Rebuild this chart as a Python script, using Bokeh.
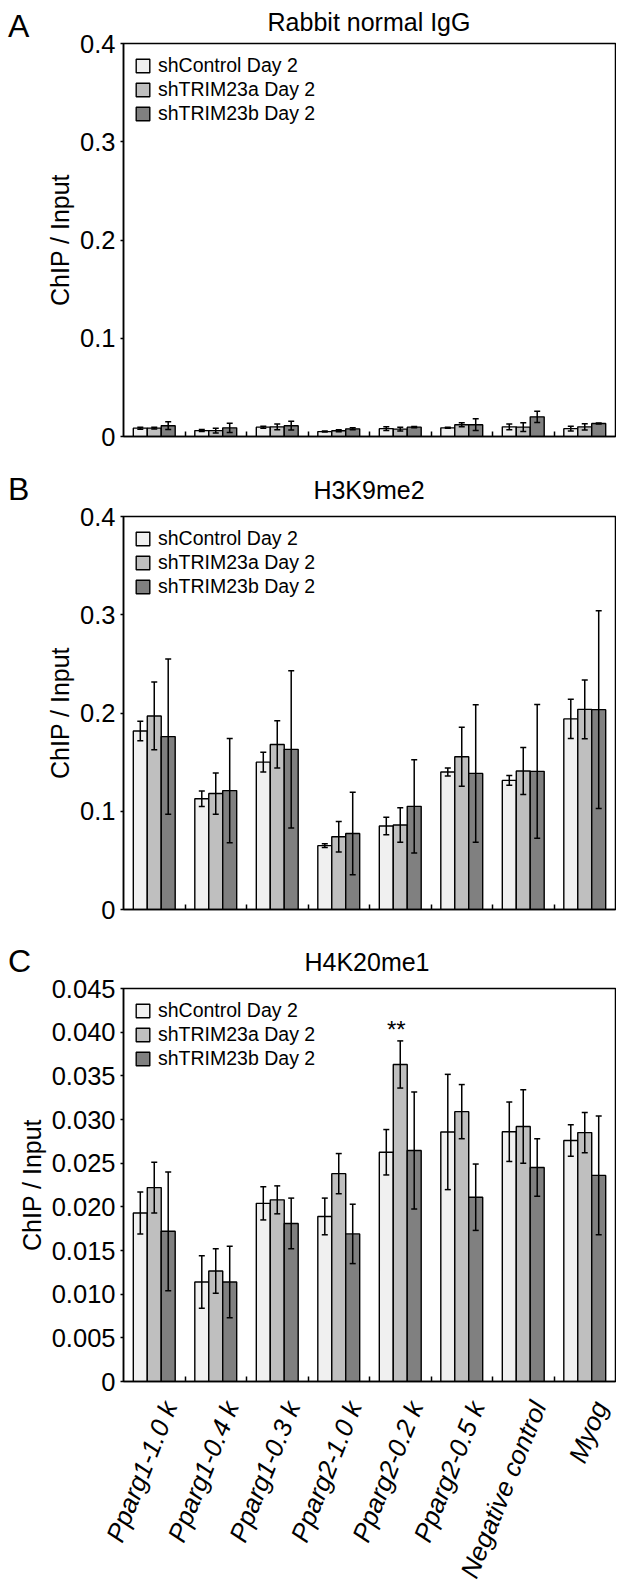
import numpy as np
from bokeh.plotting import figure
from bokeh.models import (ColumnDataSource, Whisker, Range1d, FixedTicker, CustomJSTickFormatter,
                          Legend, LegendItem, LabelSet, TeeHead, Div, LinearAxis)
from bokeh.layouts import column
from bokeh.embed import file_html
from bokeh.resources import INLINE
from bokeh.core.properties import value

# ---------------- data ----------------
categories = ["Pparg1-1.0 k", "Pparg1-0.4 k", "Pparg1-0.3 k", "Pparg2-1.0 k",
              "Pparg2-0.2 k", "Pparg2-0.5 k", "Negative control", "Myog"]
series_names = ["shControl Day 2", "shTRIM23a Day 2", "shTRIM23b Day 2"]

# Panel A: Rabbit normal IgG
igg_shcontrol = [0.0085, 0.0060, 0.0095, 0.0050, 0.0080, 0.0088, 0.0098, 0.0080]
igg_shcontrol_err = [0.0010, 0.0010, 0.0010, 0.0005, 0.0020, 0.0005, 0.0030, 0.0025]
igg_shtrim23a = [0.0085, 0.0060, 0.0098, 0.0058, 0.0075, 0.0120, 0.0095, 0.0098]
igg_shtrim23a_err = [0.0008, 0.0025, 0.0030, 0.0010, 0.0020, 0.0020, 0.0045, 0.0032]
igg_shtrim23b = [0.0110, 0.0088, 0.0110, 0.0078, 0.0095, 0.0120, 0.0200, 0.0132]
igg_shtrim23b_err = [0.0040, 0.0047, 0.0045, 0.0010, 0.0007, 0.0060, 0.0058, 0.0005]

# Panel B: H3K9me2
k9_shcontrol = [0.1817, 0.1127, 0.1500, 0.0650, 0.0850, 0.1400, 0.1314, 0.1940]
k9_shcontrol_err = [0.0100, 0.0078, 0.0100, 0.0020, 0.0090, 0.0040, 0.0050, 0.0200]
k9_shtrim23a = [0.1970, 0.1180, 0.1680, 0.0740, 0.0860, 0.1555, 0.1410, 0.2037]
k9_shtrim23a_err = [0.0345, 0.0210, 0.0240, 0.0155, 0.0175, 0.0300, 0.0240, 0.0300]
k9_shtrim23b = [0.1760, 0.1210, 0.1630, 0.0774, 0.1050, 0.1385, 0.1406, 0.2034]
k9_shtrim23b_err = [0.0790, 0.0530, 0.0800, 0.0420, 0.0475, 0.0700, 0.0680, 0.1006]

# Panel C: H4K20me1
k20_shcontrol = [0.0193, 0.0114, 0.0204, 0.0189, 0.02625, 0.02857, 0.0286, 0.0276]
k20_shcontrol_err = [0.0024, 0.0030, 0.0019, 0.0021, 0.0026, 0.0066, 0.0034, 0.0018]
k20_shtrim23a = [0.0222, 0.01265, 0.0208, 0.0238, 0.0363, 0.0309, 0.0292, 0.0285]
k20_shtrim23a_err = [0.0029, 0.00255, 0.0016, 0.0023, 0.0027, 0.0031, 0.0042, 0.0023]
k20_shtrim23b = [0.0172, 0.0114, 0.0181, 0.0169, 0.02645, 0.0211, 0.0245, 0.0236]
k20_shtrim23b_err = [0.0068, 0.0041, 0.0029, 0.0034, 0.0067, 0.0038, 0.0033, 0.0068]
k20_shtrim23a_sig = ["", "", "", "", "**", "", "", ""]

ticks_ab = [0, 0.1, 0.2, 0.3, 0.4]
ticks_c = [0, 0.005, 0.010, 0.015, 0.020, 0.025, 0.030, 0.035, 0.040, 0.045]

# ---------------- style ----------------
FONT = "Liberation Sans"
bar_fills = ["#f0f0f0", "#bfbfbf", "#808080"]
bar_w = 0.227
offsets = [-bar_w, 0.0, bar_w]
FRAME_W, FRAME_H = 492, 393
FIG_W = 608
TOP_BORDER = 15
LABEL_SHIFT = 0.25      # horizontal nudge of rotated category labels (in group units)


def header(letter, title, height, left, overlap, title_bottom, letter_bottom):
    html = (
        f'<div style="position:relative;width:{FIG_W}px;height:{height}px;'
        f'font-family:\'{FONT}\',Arial,sans-serif;color:#000;">'
        f'<span style="position:absolute;left:0px;bottom:{letter_bottom}px;'
        f'font-size:32px;line-height:1.15;">{letter}</span>'
        f'<span style="position:absolute;left:{left}px;width:{FRAME_W}px;text-align:center;'
        f'bottom:{title_bottom}px;font-size:25px;line-height:1.15;white-space:nowrap;">{title}</span>'
        f'</div>')
    return Div(text=html, width=FIG_W, height=height, margin=(0, 0, -overlap, 0),
               styles={"overflow": "visible"})


def make_panel(vals, errs, yticks, digits, left, bottom, show_xlabels=False, sig=None):
    ymax = yticks[-1]
    n = len(categories)
    p = figure(frame_width=FRAME_W, frame_height=FRAME_H,
               min_border_left=left, min_border_right=FIG_W - left - FRAME_W,
               min_border_top=TOP_BORDER, min_border_bottom=bottom,
               x_range=Range1d(0, n), y_range=Range1d(0, ymax),
               x_axis_type=None,
               output_backend="svg", toolbar_location=None, title=None)
    p.xgrid.visible = False
    p.ygrid.visible = False
    p.outline_line_color = "black"
    p.outline_line_width = 1.5
    p.background_fill_color = "white"
    p.border_fill_alpha = 0

    idx = np.arange(n)
    renderers = []
    for j in range(3):
        x = idx + 0.5 + offsets[j]
        v = np.array(vals[j])
        e = np.array(errs[j])
        src = ColumnDataSource(dict(x=x, top=v, upper=v + e, lower=v - e))
        r = p.vbar(x="x", top="top", width=bar_w, bottom=0, source=src,
                   fill_color=bar_fills[j], line_color="black", line_width=1.4)
        renderers.append(r)
        w = Whisker(source=src, base="x", upper="upper", lower="lower",
                    line_color="black", line_width=1.5, level="overlay",
                    upper_head=TeeHead(size=6, line_color="black", line_width=1.5),
                    lower_head=TeeHead(size=6, line_color="black", line_width=1.5))
        p.add_layout(w)
        if sig is not None and j == 1:
            ssrc = ColumnDataSource(dict(x=x, y=v + e, text=sig))
            p.add_layout(LabelSet(x="x", y="y", text="text", source=ssrc,
                                  text_align="center", text_baseline="alphabetic",
                                  y_offset=3, x_offset=-4,
                                  text_font=value(FONT), text_font_size=value("24px"),
                                  text_color="black"))

    # bottom axis: group boundary ticks pointing inward
    xa = LinearAxis(ticker=FixedTicker(ticks=[], minor_ticks=list(range(1, n))))
    xa.major_tick_in = 0
    xa.major_tick_out = 0
    xa.minor_tick_in = 5
    xa.minor_tick_out = 0
    xa.minor_tick_line_color = "black"
    xa.minor_tick_line_width = 1.5
    xa.axis_line_color = "black"
    xa.axis_line_width = 1.5
    xa.major_label_standoff = 0
    p.add_layout(xa, "below")

    if show_xlabels:
        p.extra_x_ranges = {"labels": Range1d(-LABEL_SHIFT, n - LABEL_SHIFT)}
        la = LinearAxis(x_range_name="labels",
                        ticker=FixedTicker(ticks=list(idx + 0.5), minor_ticks=[]))
        la.major_label_overrides = {float(i) + 0.5: c for i, c in enumerate(categories)}
        la.major_label_orientation = float(np.deg2rad(68))
        la.major_label_text_font = FONT
        la.major_label_text_font_size = "26px"
        la.major_label_text_font_style = "italic"
        la.major_label_text_color = "black"
        la.major_label_standoff = 21
        la.major_tick_in = 0
        la.major_tick_out = 0
        la.major_tick_line_color = None
        la.minor_tick_line_color = None
        la.axis_line_color = None
        p.add_layout(la, "below")

    ya = p.yaxis[0]
    ya.ticker = FixedTicker(ticks=yticks)
    ya.formatter = CustomJSTickFormatter(
        code="return tick == 0 ? '0' : tick.toFixed(%d);" % digits)
    ya.major_tick_in = 0
    ya.major_tick_out = 3
    ya.minor_tick_line_color = None
    ya.major_label_standoff = 5
    ya.major_label_text_font = FONT
    ya.major_label_text_font_size = "25.5px"
    ya.major_label_text_color = "black"
    ya.axis_line_color = "black"
    ya.axis_line_width = 1.5
    ya.major_tick_line_width = 1.5
    ya.axis_label = "ChIP / Input"
    ya.axis_label_text_font = FONT
    ya.axis_label_text_font_size = "25px"
    ya.axis_label_text_font_style = "normal"
    ya.axis_label_text_color = "black"
    ya.axis_label_standoff = 3

    legend = Legend(items=[LegendItem(label=series_names[j], renderers=[renderers[j]])
                           for j in range(3)],
                    location="top_left", glyph_width=17, glyph_height=17,
                    label_standoff=7, spacing=1, padding=11, margin=0,
                    border_line_alpha=0, background_fill_alpha=0,
                    label_text_font=FONT, label_text_font_size="19.5px",
                    label_text_color="black")
    p.add_layout(legend)
    return p


# frame tops (page px): A 43, B 516, C 988 ; figure tops = frame top - TOP_BORDER
hA = header("A", "Rabbit normal IgG", 37, 115, 17, 8.3, 0.2)
pA = make_panel([igg_shcontrol, igg_shtrim23a, igg_shtrim23b],
                [igg_shcontrol_err, igg_shtrim23a_err, igg_shtrim23b_err],
                ticks_ab, 1, left=115, bottom=20)
hB = header("B", "H3K9me2", 60, 115, 15, 10.9, 8.2)
pB = make_panel([k9_shcontrol, k9_shtrim23a, k9_shtrim23b],
                [k9_shcontrol_err, k9_shtrim23a_err, k9_shtrim23b_err],
                ticks_ab, 1, left=115, bottom=20)
hC = header("C", "H4K20me1", 59, 113, 15, 10.9, 8.2)
pC = make_panel([k20_shcontrol, k20_shtrim23a, k20_shtrim23b],
                [k20_shcontrol_err, k20_shtrim23a_err, k20_shtrim23b_err],
                ticks_c, 3, left=113, bottom=190,
                show_xlabels=True, sig=k20_shtrim23a_sig)

# page margin of 8px (Bokeh's standalone template resets the body margin)
layout = column(hA, pA, hB, pB, hC, pC, spacing=0, margin=(8, 0, 0, 8))
open("out.html", "w").write(file_html(layout, INLINE))
